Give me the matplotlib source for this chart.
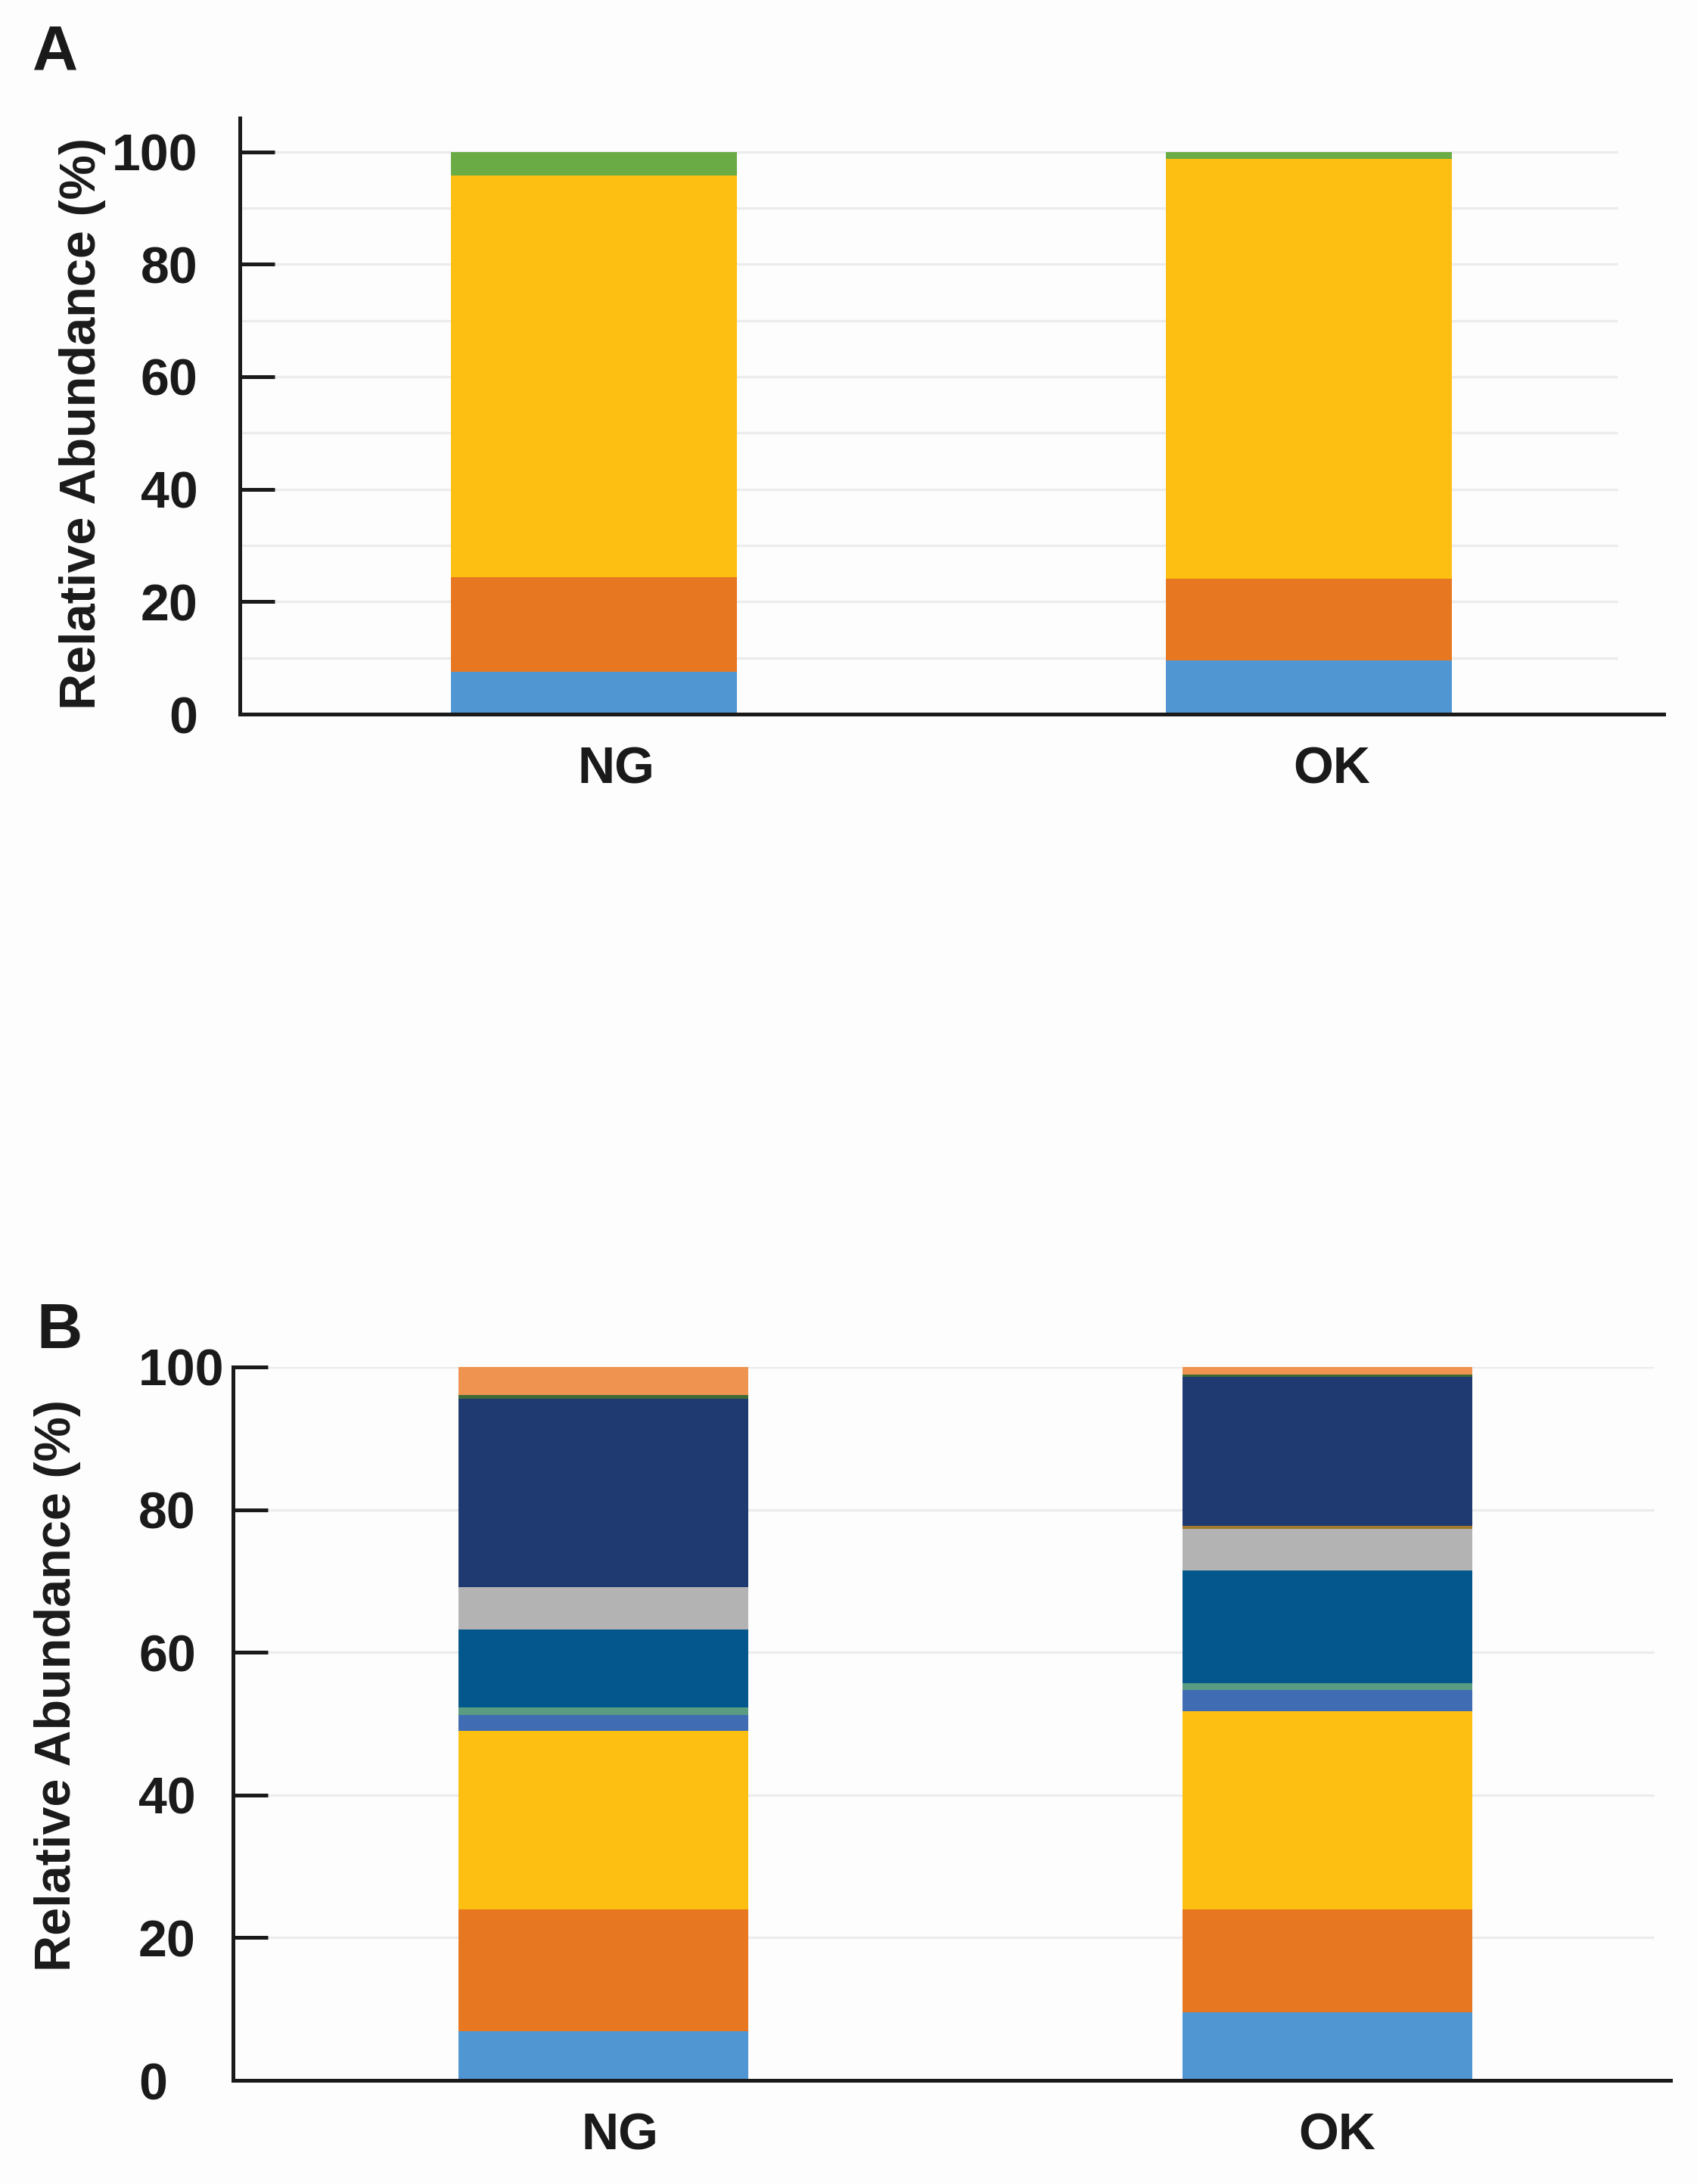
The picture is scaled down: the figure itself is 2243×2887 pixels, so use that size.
import matplotlib
matplotlib.use("Agg")
import matplotlib.pyplot as plt
from matplotlib.transforms import ScaledTranslation
import numpy as np

plt.rcParams['font.family'] = ['Liberation Sans', 'DejaVu Sans']
plt.rcParams['font.weight'] = 'bold'

# ---------------- data ----------------
categories = ["NG", "OK"]

# Panel A (phylum level), stacked bottom -> top
a_blue   = [7.5, 9.6]
a_orange = [16.8, 14.5]
a_gold   = [71.5, 74.6]
a_green  = [4.2, 1.3]

# Panel B (genus level), stacked bottom -> top
b_blue      = [6.9, 9.5]
b_orange    = [17.1, 14.5]
b_gold      = [25.0, 27.7]
b_midblue   = [2.2, 3.0]
b_green     = [1.1, 1.0]
b_darkblue  = [10.9, 15.8]
b_grey      = [5.9, 5.8]
b_darkgold  = [0.0, 0.4]
b_navy      = [26.4, 20.9]
b_darkgreen = [0.6, 0.3]
b_lorange   = [3.9, 1.1]

yticks = [0, 20, 40, 60, 80, 100]

# ---------------- style ----------------
W, H = 2243, 2887
DPI = 100
fig = plt.figure(figsize=(W / DPI, H / DPI), dpi=DPI, facecolor='#fdfdfd')

def px_x(x):
    return x / W

def px_y(y):
    return 1 - y / H

axA = fig.add_axes([px_x(317), px_y(944), px_x(2199) - px_x(317), px_y(156) - px_y(944)])
axB = fig.add_axes([px_x(308), px_y(2750), px_x(2208) - px_x(308), px_y(1807) - px_y(2750)])

def style_axis(ax, xlim, ylim, grid_vals, grid_xmax, ylab_pad, ylab_ha, xoffsets):
    ax.set_facecolor('none')
    ax.set_xlim(*xlim)
    ax.set_ylim(*ylim)
    for s in ['top', 'right']:
        ax.spines[s].set_visible(False)
    for s in ['left', 'bottom']:
        ax.spines[s].set_linewidth(3.6)
        ax.spines[s].set_color('#1a1a1a')
        ax.spines[s].set_zorder(5)
    ax.hlines(grid_vals, xlim[0], grid_xmax, colors='#ececec', linewidth=2.4, zorder=0)
    ax.set_yticks(yticks)
    ax.set_yticklabels([str(v) for v in yticks])
    ax.tick_params(axis='y', direction='in', length=33, width=3.6, color='#1a1a1a',
                   labelsize=49, pad=ylab_pad)
    for lbl in ax.get_yticklabels():
        lbl.set_ha(ylab_ha)
        lbl.set_fontweight('bold')
        lbl.set_color('#1a1a1a')
    ax.set_xticks(range(len(categories)))
    ax.set_xticklabels(categories)
    ax.tick_params(axis='x', length=0, labelsize=49, pad=30)
    for lbl, off in zip(ax.get_xticklabels(), xoffsets):
        lbl.set_fontweight('bold')
        lbl.set_color('#1a1a1a')
        lbl.set_transform(lbl.get_transform() + ScaledTranslation(off / DPI, 0, fig.dpi_scale_trans))

x = np.arange(len(categories))
bw = 0.40

# Panel A
style_axis(axA, (-0.4953, 1.4963), (0, 106), list(range(10, 101, 10)), 1.4317, 40, 'right', [29, 30])
bottom = np.zeros(len(categories))
for vals, col in [(a_blue, '#5096d2'), (a_orange, '#e87722'), (a_gold, '#fcbf12'), (a_green, '#6aab45')]:
    axA.bar(x, vals, bw, bottom=bottom, color=col, linewidth=0, zorder=2)
    bottom += np.array(vals)

# Panel B
style_axis(axB, (-0.5108, 1.4737), (0, 100), [20, 40, 60, 80, 100], 1.4506, 90, 'left', [22, 13])
bottom = np.zeros(len(categories))
series_b = [
    (b_blue, '#5096d2'), (b_orange, '#e87722'), (b_gold, '#fcbf12'), (b_midblue, '#3f6cb3'),
    (b_green, '#5a9c82'), (b_darkblue, '#04578c'), (b_grey, '#b3b3b3'), (b_darkgold, '#a07a2a'),
    (b_navy, '#1e3a70'), (b_darkgreen, '#3f6a35'), (b_lorange, '#ee9450'),
]
for vals, col in series_b:
    axB.bar(x, vals, bw, bottom=bottom, color=col, linewidth=0, zorder=2)
    bottom += np.array(vals)
axB.spines['left'].set_bounds(0, 100)

# Y labels
fig.text(px_x(109), px_y(560), "Relative Abundance (%)", rotation=90, ha='center', va='center',
         fontsize=48, fontweight='bold', color='#1a1a1a')
fig.text(px_x(76), px_y(2228), "Relative Abundance (%)", rotation=90, ha='center', va='center',
         fontsize=48, fontweight='bold', color='#1a1a1a')

# Panel letters
fig.text(px_x(43), px_y(93), "A", ha='left', va='baseline', fontsize=60, fontweight='bold', color='#1a1a1a')
fig.text(px_x(48), px_y(1782), "B", ha='left', va='baseline', fontsize=60, fontweight='bold', color='#1a1a1a')

fig.savefig("out.png", dpi=DPI, facecolor=fig.get_facecolor())
